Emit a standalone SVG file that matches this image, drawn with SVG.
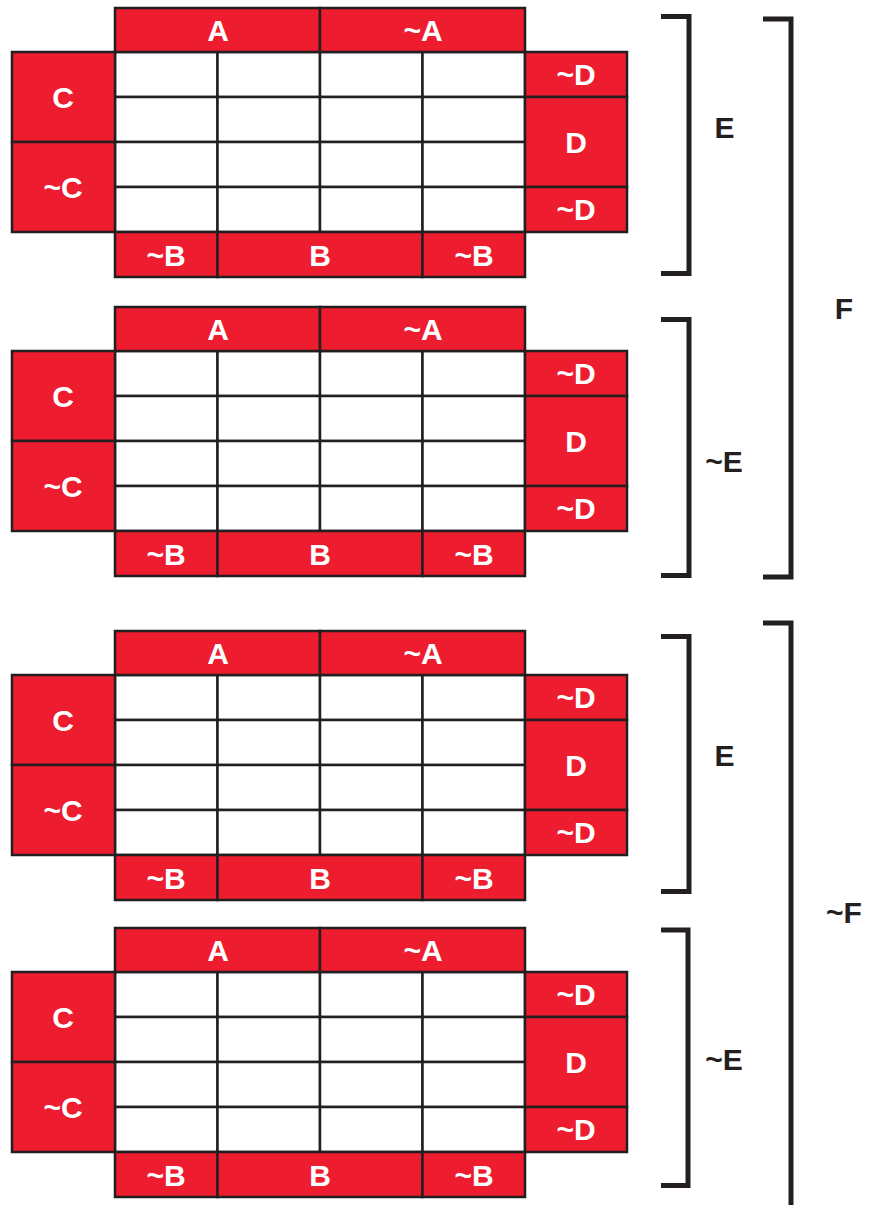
<svg xmlns="http://www.w3.org/2000/svg" width="875" height="1205" viewBox="0 0 875 1205">
<style>
.r{fill:#ED1C2E;stroke:#231F20;stroke-width:2.5}
.c{fill:#FFFFFF;stroke:#231F20;stroke-width:2.5}
.t{font-family:"Liberation Sans",Arial,sans-serif;font-weight:bold;font-size:30px;fill:#FFFFFF;text-anchor:middle}
.l{font-family:"Liberation Sans",Arial,sans-serif;font-weight:bold;font-size:30px;fill:#231F20;text-anchor:middle}
.b{fill:none;stroke:#231F20;stroke-width:5}
</style>
<rect width="875" height="1205" fill="#FFFFFF"/>
<g id="map1" transform="translate(0,0)">
<g class="cells">
<rect class="c" x="115" y="52" width="102.5" height="45"/><rect class="c" x="217.5" y="52" width="102.5" height="45"/><rect class="c" x="320" y="52" width="102.5" height="45"/><rect class="c" x="422.5" y="52" width="102.5" height="45"/>
<rect class="c" x="115" y="97" width="102.5" height="45"/><rect class="c" x="217.5" y="97" width="102.5" height="45"/><rect class="c" x="320" y="97" width="102.5" height="45"/><rect class="c" x="422.5" y="97" width="102.5" height="45"/>
<rect class="c" x="115" y="142" width="102.5" height="45"/><rect class="c" x="217.5" y="142" width="102.5" height="45"/><rect class="c" x="320" y="142" width="102.5" height="45"/><rect class="c" x="422.5" y="142" width="102.5" height="45"/>
<rect class="c" x="115" y="187" width="102.5" height="45"/><rect class="c" x="217.5" y="187" width="102.5" height="45"/><rect class="c" x="320" y="187" width="102.5" height="45"/><rect class="c" x="422.5" y="187" width="102.5" height="45"/>
</g>
<g id="m1-A"><rect class="r" x="115" y="8" width="205" height="44"/><text class="t" x="218" y="41">A</text></g>
<g id="m1-nA"><rect class="r" x="320" y="8" width="205" height="44"/><text class="t" x="423" y="41">~A</text></g>
<g id="m1-C"><rect class="r" x="12" y="52" width="103" height="90"/><text class="t" x="63" y="108">C</text></g>
<g id="m1-nC"><rect class="r" x="12" y="142" width="103" height="90"/><text class="t" x="63" y="198">~C</text></g>
<g id="m1-nD1"><rect class="r" x="525" y="52" width="102" height="45"/><text class="t" x="576" y="85">~D</text></g>
<g id="m1-D"><rect class="r" x="525" y="97" width="102" height="90"/><text class="t" x="576" y="153">D</text></g>
<g id="m1-nD2"><rect class="r" x="525" y="187" width="102" height="45"/><text class="t" x="576" y="220">~D</text></g>
<g id="m1-nB1"><rect class="r" x="115" y="232" width="102.5" height="45"/><text class="t" x="166" y="266">~B</text></g>
<g id="m1-B"><rect class="r" x="217.5" y="232" width="205" height="45"/><text class="t" x="320" y="266">B</text></g>
<g id="m1-nB2"><rect class="r" x="422.5" y="232" width="102.5" height="45"/><text class="t" x="474" y="266">~B</text></g>
</g>
<g id="map2" transform="translate(0,299)">
<g class="cells">
<rect class="c" x="115" y="52" width="102.5" height="45"/><rect class="c" x="217.5" y="52" width="102.5" height="45"/><rect class="c" x="320" y="52" width="102.5" height="45"/><rect class="c" x="422.5" y="52" width="102.5" height="45"/>
<rect class="c" x="115" y="97" width="102.5" height="45"/><rect class="c" x="217.5" y="97" width="102.5" height="45"/><rect class="c" x="320" y="97" width="102.5" height="45"/><rect class="c" x="422.5" y="97" width="102.5" height="45"/>
<rect class="c" x="115" y="142" width="102.5" height="45"/><rect class="c" x="217.5" y="142" width="102.5" height="45"/><rect class="c" x="320" y="142" width="102.5" height="45"/><rect class="c" x="422.5" y="142" width="102.5" height="45"/>
<rect class="c" x="115" y="187" width="102.5" height="45"/><rect class="c" x="217.5" y="187" width="102.5" height="45"/><rect class="c" x="320" y="187" width="102.5" height="45"/><rect class="c" x="422.5" y="187" width="102.5" height="45"/>
</g>
<g id="m2-A"><rect class="r" x="115" y="8" width="205" height="44"/><text class="t" x="218" y="41">A</text></g>
<g id="m2-nA"><rect class="r" x="320" y="8" width="205" height="44"/><text class="t" x="423" y="41">~A</text></g>
<g id="m2-C"><rect class="r" x="12" y="52" width="103" height="90"/><text class="t" x="63" y="108">C</text></g>
<g id="m2-nC"><rect class="r" x="12" y="142" width="103" height="90"/><text class="t" x="63" y="198">~C</text></g>
<g id="m2-nD1"><rect class="r" x="525" y="52" width="102" height="45"/><text class="t" x="576" y="85">~D</text></g>
<g id="m2-D"><rect class="r" x="525" y="97" width="102" height="90"/><text class="t" x="576" y="153">D</text></g>
<g id="m2-nD2"><rect class="r" x="525" y="187" width="102" height="45"/><text class="t" x="576" y="220">~D</text></g>
<g id="m2-nB1"><rect class="r" x="115" y="232" width="102.5" height="45"/><text class="t" x="166" y="266">~B</text></g>
<g id="m2-B"><rect class="r" x="217.5" y="232" width="205" height="45"/><text class="t" x="320" y="266">B</text></g>
<g id="m2-nB2"><rect class="r" x="422.5" y="232" width="102.5" height="45"/><text class="t" x="474" y="266">~B</text></g>
</g>
<g id="map3" transform="translate(0,623)">
<g class="cells">
<rect class="c" x="115" y="52" width="102.5" height="45"/><rect class="c" x="217.5" y="52" width="102.5" height="45"/><rect class="c" x="320" y="52" width="102.5" height="45"/><rect class="c" x="422.5" y="52" width="102.5" height="45"/>
<rect class="c" x="115" y="97" width="102.5" height="45"/><rect class="c" x="217.5" y="97" width="102.5" height="45"/><rect class="c" x="320" y="97" width="102.5" height="45"/><rect class="c" x="422.5" y="97" width="102.5" height="45"/>
<rect class="c" x="115" y="142" width="102.5" height="45"/><rect class="c" x="217.5" y="142" width="102.5" height="45"/><rect class="c" x="320" y="142" width="102.5" height="45"/><rect class="c" x="422.5" y="142" width="102.5" height="45"/>
<rect class="c" x="115" y="187" width="102.5" height="45"/><rect class="c" x="217.5" y="187" width="102.5" height="45"/><rect class="c" x="320" y="187" width="102.5" height="45"/><rect class="c" x="422.5" y="187" width="102.5" height="45"/>
</g>
<g id="m3-A"><rect class="r" x="115" y="8" width="205" height="44"/><text class="t" x="218" y="41">A</text></g>
<g id="m3-nA"><rect class="r" x="320" y="8" width="205" height="44"/><text class="t" x="423" y="41">~A</text></g>
<g id="m3-C"><rect class="r" x="12" y="52" width="103" height="90"/><text class="t" x="63" y="108">C</text></g>
<g id="m3-nC"><rect class="r" x="12" y="142" width="103" height="90"/><text class="t" x="63" y="198">~C</text></g>
<g id="m3-nD1"><rect class="r" x="525" y="52" width="102" height="45"/><text class="t" x="576" y="85">~D</text></g>
<g id="m3-D"><rect class="r" x="525" y="97" width="102" height="90"/><text class="t" x="576" y="153">D</text></g>
<g id="m3-nD2"><rect class="r" x="525" y="187" width="102" height="45"/><text class="t" x="576" y="220">~D</text></g>
<g id="m3-nB1"><rect class="r" x="115" y="232" width="102.5" height="45"/><text class="t" x="166" y="266">~B</text></g>
<g id="m3-B"><rect class="r" x="217.5" y="232" width="205" height="45"/><text class="t" x="320" y="266">B</text></g>
<g id="m3-nB2"><rect class="r" x="422.5" y="232" width="102.5" height="45"/><text class="t" x="474" y="266">~B</text></g>
</g>
<g id="map4" transform="translate(0,920)">
<g class="cells">
<rect class="c" x="115" y="52" width="102.5" height="45"/><rect class="c" x="217.5" y="52" width="102.5" height="45"/><rect class="c" x="320" y="52" width="102.5" height="45"/><rect class="c" x="422.5" y="52" width="102.5" height="45"/>
<rect class="c" x="115" y="97" width="102.5" height="45"/><rect class="c" x="217.5" y="97" width="102.5" height="45"/><rect class="c" x="320" y="97" width="102.5" height="45"/><rect class="c" x="422.5" y="97" width="102.5" height="45"/>
<rect class="c" x="115" y="142" width="102.5" height="45"/><rect class="c" x="217.5" y="142" width="102.5" height="45"/><rect class="c" x="320" y="142" width="102.5" height="45"/><rect class="c" x="422.5" y="142" width="102.5" height="45"/>
<rect class="c" x="115" y="187" width="102.5" height="45"/><rect class="c" x="217.5" y="187" width="102.5" height="45"/><rect class="c" x="320" y="187" width="102.5" height="45"/><rect class="c" x="422.5" y="187" width="102.5" height="45"/>
</g>
<g id="m4-A"><rect class="r" x="115" y="8" width="205" height="44"/><text class="t" x="218" y="41">A</text></g>
<g id="m4-nA"><rect class="r" x="320" y="8" width="205" height="44"/><text class="t" x="423" y="41">~A</text></g>
<g id="m4-C"><rect class="r" x="12" y="52" width="103" height="90"/><text class="t" x="63" y="108">C</text></g>
<g id="m4-nC"><rect class="r" x="12" y="142" width="103" height="90"/><text class="t" x="63" y="198">~C</text></g>
<g id="m4-nD1"><rect class="r" x="525" y="52" width="102" height="45"/><text class="t" x="576" y="85">~D</text></g>
<g id="m4-D"><rect class="r" x="525" y="97" width="102" height="90"/><text class="t" x="576" y="153">D</text></g>
<g id="m4-nD2"><rect class="r" x="525" y="187" width="102" height="45"/><text class="t" x="576" y="220">~D</text></g>
<g id="m4-nB1"><rect class="r" x="115" y="232" width="102.5" height="45"/><text class="t" x="166" y="266">~B</text></g>
<g id="m4-B"><rect class="r" x="217.5" y="232" width="205" height="45"/><text class="t" x="320" y="266">B</text></g>
<g id="m4-nB2"><rect class="r" x="422.5" y="232" width="102.5" height="45"/><text class="t" x="474" y="266">~B</text></g>
</g>
<g id="brackets">
<path class="b" d="M661,16.5 H689 V273.5 H661"/>
<path class="b" d="M661,319.5 H689 V575.5 H661"/>
<path class="b" d="M661,636.5 H689 V891.5 H661"/>
<path class="b" d="M661,930 H688 V1185.5 H661"/>
<path class="b" d="M763,19 H791 V577 H763"/>
<path class="b" d="M763,623 H791 V1205"/>
</g>
<g id="labels">
<text class="l" x="724.5" y="138">E</text>
<text class="l" x="724" y="472">~E</text>
<text class="l" x="844" y="319">F</text>
<text class="l" x="724.5" y="766">E</text>
<text class="l" x="724" y="1070">~E</text>
<text class="l" x="844" y="923">~F</text>
</g>
</svg>
